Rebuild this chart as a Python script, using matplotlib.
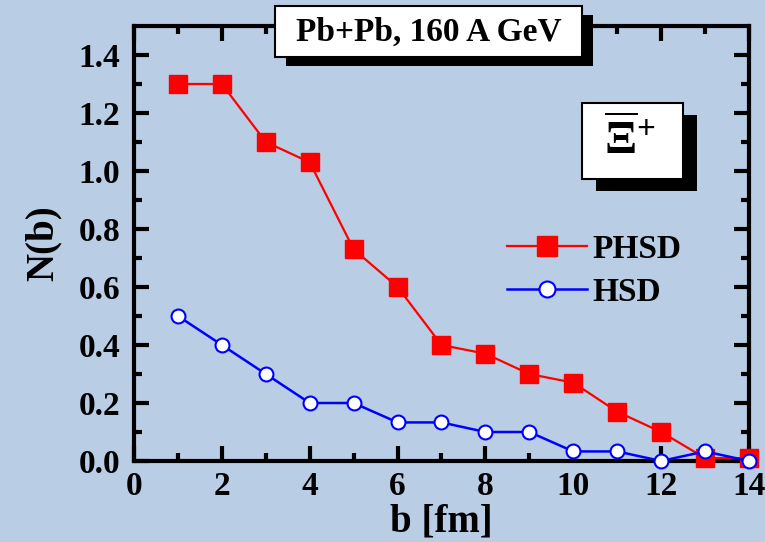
import numpy as np
import matplotlib
matplotlib.use('Agg')
import matplotlib.pyplot as plt
from matplotlib.patches import Rectangle

# impact parameter b [fm]
b = [1, 2, 3, 4, 5, 6, 7, 8, 9, 10, 11, 12, 13, 14]
n_phsd = [1.30, 1.30, 1.10, 1.03, 0.73, 0.60, 0.40, 0.37, 0.30, 0.27, 0.17, 0.10, 0.01, 0.01]
n_hsd = [0.50, 0.40, 0.30, 0.20, 0.20, 0.133, 0.133, 0.10, 0.10, 0.033, 0.033, 0.0, 0.033, 0.0]
x_ticks = [0, 2, 4, 6, 8, 10, 12, 14]
y_ticks = [0.0, 0.2, 0.4, 0.6, 0.8, 1.0, 1.2, 1.4]

plt.rcParams['font.family'] = ['Liberation Serif', 'DejaVu Serif']
plt.rcParams['font.weight'] = 'bold'
plt.rcParams['axes.labelweight'] = 'bold'
plt.rcParams['mathtext.fontset'] = 'custom'
plt.rcParams['mathtext.rm'] = 'Liberation Serif:bold'
plt.rcParams['mathtext.it'] = 'Liberation Serif:bold'
plt.rcParams['mathtext.bf'] = 'Liberation Serif:bold'

bg = '#b9cde5'
W, H = 765, 542
fig = plt.figure(figsize=(W / 100, H / 100), dpi=100, facecolor=bg)

def fx(px):
    return px / W

def fy(py):
    return 1 - py / H

# axes box in pixels: left 134, right 749, top 26, bottom 461
ax = fig.add_axes([fx(134), fy(461), fx(749) - fx(134), fy(26) - fy(461)])
ax.set_facecolor(bg)

ax.plot(b, n_phsd, color='#ff0000', lw=1.6, marker='s', ms=13,
        mfc='#ff0000', mec='#ff0000', clip_on=False, zorder=3, label='PHSD')
ax.plot(b, n_hsd, color='#0000ff', lw=1.8, marker='o', ms=10,
        mfc='white', mec='#0000ff', mew=1.5, clip_on=False, zorder=4, label='HSD')

ax.set_xlim(0, 14)
ax.set_ylim(0, 1.5)
ax.set_xticks(x_ticks)
ax.set_yticks(y_ticks)
ax.set_xticklabels([str(t) for t in x_ticks])
ax.set_yticklabels(['%.1f' % t for t in y_ticks])
ax.set_xticks(np.arange(1, 14, 2), minor=True)
ax.set_yticks(np.arange(0.1, 1.5, 0.2), minor=True)
ax.tick_params(which='both', direction='in', top=True, right=True, width=3)
ax.tick_params(which='major', length=11, labelsize=24)
ax.tick_params(which='minor', length=6)
ax.tick_params(axis='y', pad=10)
ax.tick_params(axis='x', pad=7)
for s in ax.spines.values():
    s.set_linewidth(3)

ax.set_xlabel('b [fm]', fontsize=28, labelpad=1)
ax.set_ylabel('N(b)', fontsize=28, labelpad=12)

ax.legend(loc='upper left', bbox_to_anchor=((507 - 134) / 615, (461 - 234) / 435),
          frameon=False, fontsize=24, handlelength=2.4, handletextpad=0.15,
          labelspacing=0.35, borderpad=0, borderaxespad=0, markerscale=1.15)

# title box with shadow
fig.patches.append(Rectangle((fx(286), fy(66)), (582 - 275) / W, (57 - 6) / H,
                             transform=fig.transFigure, facecolor='black',
                             edgecolor='none', zorder=5))
fig.patches.append(Rectangle((fx(275), fy(57)), (582 - 275) / W, (57 - 6) / H,
                             transform=fig.transFigure, facecolor='white',
                             edgecolor='black', lw=1.5, zorder=6))
fig.text(fx(428.5), fy(32), 'Pb+Pb, 160 A GeV', fontsize=24, ha='center',
         va='center', zorder=7)

# particle box with shadow
fig.patches.append(Rectangle((fx(596), fy(191)), (683 - 582) / W, (179 - 103) / H,
                             transform=fig.transFigure, facecolor='black',
                             edgecolor='none', zorder=5))
fig.patches.append(Rectangle((fx(582), fy(179)), (683 - 582) / W, (179 - 103) / H,
                             transform=fig.transFigure, facecolor='white',
                             edgecolor='black', lw=1.5, zorder=6))
fig.text(fx(630), fy(141), r'$\overline{\Xi}^{+}$', fontsize=34, ha='center',
         va='center', zorder=7)

fig.savefig('out.png', dpi=100, facecolor=bg)
